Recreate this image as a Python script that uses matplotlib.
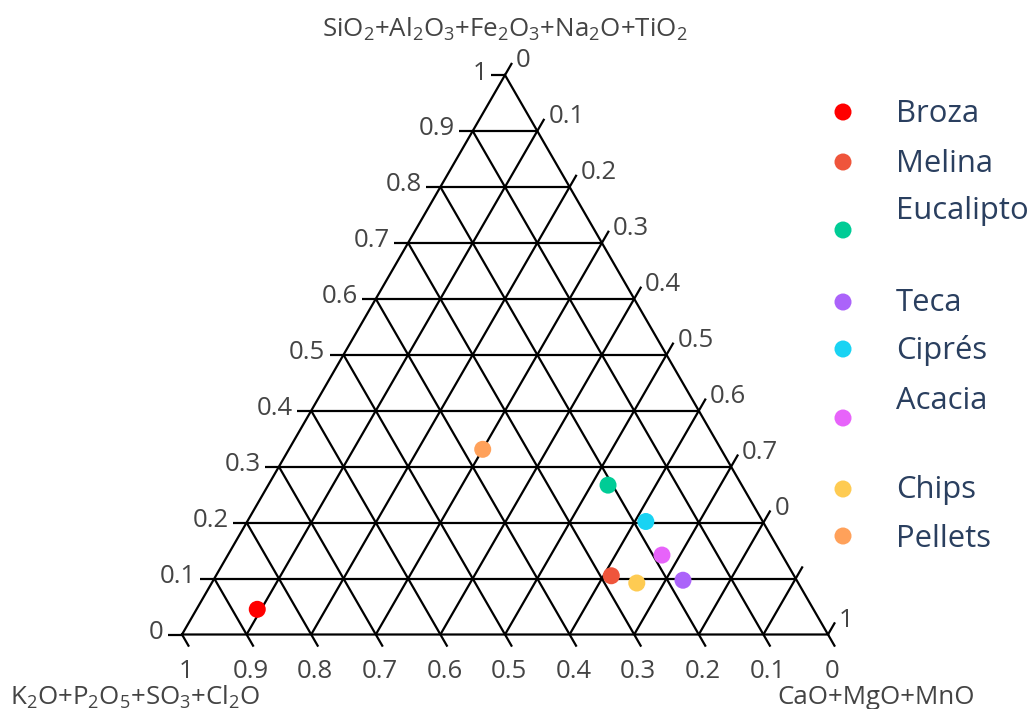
import numpy as np
import matplotlib
matplotlib.use("Agg")
import matplotlib.pyplot as plt

plt.rcParams['font.family'] = ['Open Sans', 'DejaVu Sans']
plt.rcParams['mathtext.fontset'] = 'custom'
plt.rcParams['mathtext.rm'] = 'Open Sans'
plt.rcParams['mathtext.default'] = 'regular'

# ---------------- data ----------------
categories = ["Broza", "Melina", "Eucalipto", "Teca", "Ciprés", "Acacia", "Chips", "Pellets"]
# a: SiO2+Al2O3+Fe2O3+Na2O+TiO2 (top), b: K2O+P2O5+SO3+Cl2O (left), c: CaO+MgO+MnO (right)
a_vals = [0.045, 0.105, 0.267, 0.097, 0.202, 0.142, 0.092, 0.331]
b_vals = [0.861, 0.283, 0.207, 0.176, 0.181, 0.186, 0.250, 0.369]
c_vals = [0.094, 0.612, 0.526, 0.727, 0.617, 0.672, 0.658, 0.300]
colors = ["#FF0000", "#EF553B", "#00CC96", "#AB63FA", "#19D3F3", "#E763FA", "#FECB52", "#FFA15A"]

a_ticklabels = ["0", "0.1", "0.2", "0.3", "0.4", "0.5", "0.6", "0.7", "0.8", "0.9", "1"]
b_ticklabels = ["0", "0.1", "0.2", "0.3", "0.4", "0.5", "0.6", "0.7", "0.8", "0.9", "1"]
c_ticklabels = ["0", "0.1", "0.2", "0.3", "0.4", "0.5", "0.6", "0.7", "0", "", "1"]

a_title = r"SiO$_2$+Al$_2$O$_3$+Fe$_2$O$_3$+Na$_2$O+TiO$_2$"
b_title = r"K$_2$O+P$_2$O$_5$+SO$_3$+Cl$_2$O"
c_title = r"CaO+MgO+MnO"

# ---------------- layout ----------------
W, H = 1031, 709
fig = plt.figure(figsize=(W / 100, H / 100), dpi=100)
side_px = 646.0
x0_px, base_px = 182.0, 634.5  # bottom-left vertex in pixels (from top)
ax = fig.add_axes([0, 0, 1, 1])
ax.set_xlim(-x0_px / side_px, (W - x0_px) / side_px)
ax.set_ylim(-(H - base_px) / side_px, base_px / side_px)
ax.axis('off')
px = 1.0 / side_px
S3 = np.sqrt(3) / 2


def t2xy(a, b, c):
    a = np.asarray(a, float); b = np.asarray(b, float); c = np.asarray(c, float)
    s = a + b + c
    a, b, c = a / s, b / s, c / s
    return c + a / 2, a * S3


lc = 'black'
lw = 1.6
ticks = np.linspace(0, 1, 11)
# grid lines
for t in ticks[1:-1]:
    x1, y1 = t2xy(t, 1 - t, 0); x2, y2 = t2xy(t, 0, 1 - t)
    ax.plot([x1, x2], [y1, y2], color=lc, lw=lw, solid_capstyle='butt')
    x1, y1 = t2xy(1 - t, t, 0); x2, y2 = t2xy(0, t, 1 - t)
    ax.plot([x1, x2], [y1, y2], color=lc, lw=lw, solid_capstyle='butt')
    x1, y1 = t2xy(1 - t, 0, t); x2, y2 = t2xy(0, 1 - t, t)
    ax.plot([x1, x2], [y1, y2], color=lc, lw=lw, solid_capstyle='butt')
# outline
vx, vy = t2xy([0, 0, 1, 0], [1, 0, 0, 1], [0, 1, 0, 0])
ax.plot(vx, vy, color=lc, lw=lw, solid_joinstyle='miter')

tick_len = 14 * px
tcol = '#444444'
tfs = 18.5
# a-axis ticks (left edge, horizontal to the left)
for t, lab in zip(ticks, a_ticklabels):
    x, y = t2xy(t, 1 - t, 0)
    ax.plot([x - tick_len, x], [y, y], color=lc, lw=lw, solid_capstyle='butt')
    ax.text(x - tick_len - 4 * px, y + 2 * px, lab, ha='right', va='center', fontsize=tfs, color=tcol)
# b-axis ticks (bottom edge, down-right)
for t, lab in zip(ticks, b_ticklabels):
    x, y = t2xy(0, t, 1 - t)
    ex, ey = x + tick_len * 0.5, y - tick_len * S3
    ax.plot([x, ex], [y, ey], color=lc, lw=lw, solid_capstyle='butt')
    ax.text(ex - 3 * px, ey - 12 * px, lab, ha='center', va='top', fontsize=tfs, color=tcol)
# c-axis ticks (right edge, up-right)
for t, lab in zip(ticks, c_ticklabels):
    x, y = t2xy(1 - t, 0, t)
    ex, ey = x + tick_len * 0.5, y + tick_len * S3
    ax.plot([x, ex], [y, ey], color=lc, lw=lw, solid_capstyle='butt')
    if lab:
        ax.text(ex + 4 * px, ey + 2 * px, lab, ha='left', va='center', fontsize=tfs, color=tcol)

# axis titles
tfs2 = 18.6
fig.text(505 / W, 1 - 29 / H, a_title, ha='center', va='center', fontsize=tfs2, color=tcol)
fig.text(10 / W, 1 - 697 / H, b_title, ha='left', va='center', fontsize=tfs2, color=tcol)
fig.text(777 / W, 1 - 697 / H, c_title, ha='left', va='center', fontsize=tfs2, color=tcol)

# data points
xs, ys = t2xy(a_vals, b_vals, c_vals)
for xi, yi, col, name in zip(xs, ys, colors, categories):
    ax.scatter([xi], [yi], s=150, color=col, edgecolors='none', zorder=5, label=name)

# legend (manual layout)
lax = fig.add_axes([0, 0, 1, 1], facecolor='none')
lax.set_xlim(0, W); lax.set_ylim(H, 0); lax.axis('off')
marker_y = [112, 162, 230, 302, 349, 418, 489, 536]
text_y = [114, 164, 211, 303, 350, 401, 490, 539]
for name, col, my, ty in zip(categories, colors, marker_y, text_y):
    lax.scatter([843], [my], s=150, color=col, edgecolors='none')
    lax.text(896, ty, name, ha='left', va='center', fontsize=22.3, color='#2a3f5f')

fig.savefig("out.png", dpi=100)
